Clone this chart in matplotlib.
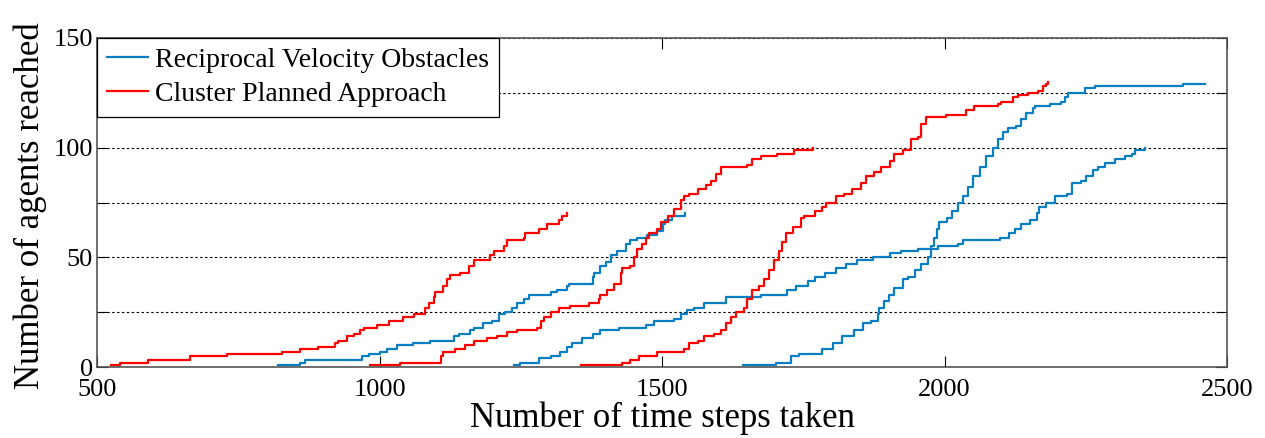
import matplotlib
matplotlib.use("Agg")
import matplotlib.pyplot as plt

# ---- data ----
cpa70_x = [524, 541, 590, 664, 730, 762, 827, 859, 891, 921, 927, 942, 954, 966, 973, 996, 1016, 1042,
           1061, 1081, 1087, 1096, 1099, 1113, 1119, 1125, 1143, 1158, 1167, 1196, 1202, 1220, 1226,
           1255, 1258, 1282, 1297, 1317, 1323, 1332]
cpa70_y = [1, 2, 3, 5, 6, 6, 7, 8, 9, 11, 12, 14, 15, 17, 18, 19, 21, 23,
           24, 27, 29, 32, 34, 37, 40, 42, 43, 46, 49, 51, 53, 55, 58,
           59, 61, 63, 65, 67, 69, 70]

rvo70_x = [821, 859, 868, 969, 981, 1001, 1013, 1031, 1060, 1090, 1131, 1140, 1161, 1167, 1184, 1199,
           1211, 1223, 1235, 1244, 1255, 1264, 1303, 1315, 1332, 1335, 1377, 1380, 1391, 1400, 1409,
           1421, 1436, 1444, 1456, 1474, 1492, 1501, 1506, 1518, 1540]
rvo70_y = [1, 2, 3, 5, 6, 7, 8, 10, 11, 12, 14, 15, 17, 18, 20, 21,
           24, 25, 27, 29, 31, 33, 34, 35, 37, 38, 41, 43, 46, 48, 51,
           53, 56, 58, 59, 60, 62, 65, 67, 69, 70]

cpa100_x = [983, 1037, 1105, 1108, 1113, 1134, 1152, 1167, 1190, 1208, 1226, 1244, 1279, 1285, 1291,
            1303, 1317, 1338, 1371, 1388, 1391, 1403, 1415, 1427, 1430, 1444, 1450, 1456, 1465, 1471,
            1477, 1492, 1498, 1510, 1521, 1533, 1539, 1548, 1563, 1577, 1586, 1595, 1604, 1651, 1660,
            1675, 1704, 1734, 1752, 1767]
cpa100_y = [1, 2, 2, 5, 7, 8, 10, 12, 13, 14, 16, 17, 18, 21, 23,
            25, 27, 28, 29, 31, 33, 35, 38, 43, 45, 46, 50, 54, 56, 59,
            61, 63, 66, 69, 72, 76, 78, 79, 81, 83, 85, 88, 91, 92, 95,
            96, 97, 99, 99, 100]

rvo100_x = [1238, 1249, 1282, 1303, 1320, 1332, 1341, 1359, 1377, 1391, 1424, 1471, 1486, 1521, 1533,
            1545, 1557, 1575, 1613, 1675, 1722, 1737, 1758, 1770, 1788, 1808, 1826, 1846, 1873, 1903,
            1923, 1953, 1988, 2024, 2033, 2098, 2115, 2124, 2136, 2151, 2163, 2168, 2180, 2195, 2216,
            2225, 2242, 2251, 2263, 2272, 2284, 2301, 2319, 2331, 2337, 2354]
rvo100_y = [1, 2, 4, 5, 7, 9, 11, 13, 15, 17, 18, 19, 21, 22, 24,
            26, 27, 29, 32, 33, 35, 37, 39, 41, 43, 45, 47, 49, 50, 52,
            53, 54, 55, 56, 58, 59, 61, 63, 65, 67, 70, 73, 75, 78, 79,
            84, 85, 87, 90, 91, 93, 95, 96, 97, 99, 100]

cpa130_x = [1356, 1430, 1444, 1460, 1468, 1492, 1539, 1548, 1563, 1575, 1592, 1604, 1613, 1622, 1631,
            1646, 1651, 1660, 1672, 1681, 1690, 1698, 1707, 1713, 1719, 1731, 1746, 1752, 1770, 1784,
            1790, 1808, 1822, 1837, 1852, 1861, 1876, 1887, 1903, 1911, 1926, 1941, 1953, 1958, 1967,
            2003, 2038, 2053, 2094, 2100, 2121, 2130, 2148, 2166, 2174, 2180, 2183]
cpa130_y = [1, 2, 3, 5, 5, 7, 8, 11, 12, 14, 15, 17, 20, 23, 25,
            27, 31, 35, 37, 40, 44, 49, 53, 57, 61, 64, 68, 69, 71, 73,
            75, 78, 79, 81, 84, 87, 89, 91, 94, 97, 99, 104, 105, 111, 114,
            115, 117, 119, 120, 121, 123, 124, 125, 126, 128, 129, 130]

rvo130_x = [1643, 1701, 1728, 1743, 1784, 1802, 1819, 1840, 1855, 1870, 1882, 1884, 1893, 1902, 1911,
            1926, 1935, 1947, 1958, 1970, 1976, 1981, 1987, 1990, 2005, 2014, 2024, 2033, 2041, 2050,
            2062, 2074, 2086, 2094, 2103, 2112, 2127, 2136, 2145, 2157, 2160, 2186, 2207, 2213, 2219,
            2248, 2266, 2423, 2461]
rvo130_y = [1, 2, 5, 6, 8, 11, 14, 17, 20, 21, 24, 27, 30, 33, 36,
            40, 41, 44, 47, 50, 55, 59, 63, 66, 68, 71, 75, 78, 82, 87,
            91, 96, 100, 104, 107, 109, 110, 113, 116, 118, 119, 120, 121, 123, 125,
            127, 128, 129, 129]

series_labels = ["Reciprocal Velocity Obstacles", "Cluster Planned Approach"]
xticks = [500, 1000, 1500, 2000, 2500]
yticks = [0, 25, 50, 75, 100, 125, 150]
ytick_labels = ["0", "", "50", "", "100", "", "150"]

BLUE = "#0a7ec2"
RED = "#ff0000"

plt.rcParams['font.family'] = ['Liberation Serif', 'DejaVu Serif']

fig = plt.figure(figsize=(12.65, 4.38), dpi=100)
ax = fig.add_axes([97 / 1265, 1 - 367 / 438, (1227 - 97) / 1265, (367 - 38) / 438])

lw = 1.6
ax.plot(rvo70_x, rvo70_y, drawstyle='steps-post', color=BLUE, lw=lw, label=series_labels[0])
ax.plot(cpa70_x, cpa70_y, drawstyle='steps-post', color=RED, lw=lw, label=series_labels[1])
ax.plot(rvo100_x, rvo100_y, drawstyle='steps-post', color=BLUE, lw=lw)
ax.plot(cpa100_x, cpa100_y, drawstyle='steps-post', color=RED, lw=lw)
ax.plot(rvo130_x, rvo130_y, drawstyle='steps-post', color=BLUE, lw=lw)
ax.plot(cpa130_x, cpa130_y, drawstyle='steps-post', color=RED, lw=lw)

ax.set_xlim(500, 2500)
ax.set_ylim(0, 150)
ax.set_xticks(xticks)
ax.set_yticks(yticks)
ax.set_yticklabels(ytick_labels)
ax.tick_params(direction='in', top=True, right=True, length=8, width=0.8,
               labelsize=19, colors='black')
ax.tick_params(axis='x', pad=8.5)
ax.tick_params(axis='y', pad=3)
ax.yaxis.grid(True, linestyle=(0, (2.2, 2.2)), color='black', lw=0.8)
ax.set_axisbelow(True)
for s in ax.spines.values():
    s.set_color('#555555')
    s.set_linewidth(1.2)

ax.set_xlabel("Number of time steps taken", fontsize=25)
ax.set_ylabel("Number of agents reached", fontsize=25)
ax.xaxis.set_label_coords(0.5, -0.105)
ax.yaxis.set_label_coords(-0.044, 0.49)

leg = ax.legend(loc='upper left', fontsize=20, frameon=True, fancybox=False,
                edgecolor='black', framealpha=1, borderaxespad=0,
                handlelength=1.5, handletextpad=0.25, borderpad=0.35, labelspacing=0.3)
leg.get_frame().set_linewidth(0.9)

fig.savefig("out.png", dpi=100)
